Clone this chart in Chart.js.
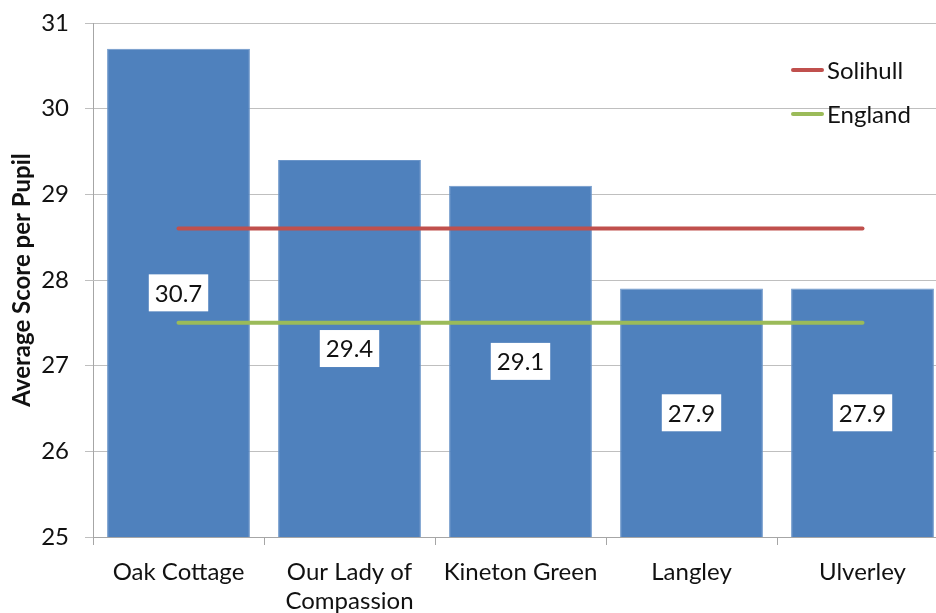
<!DOCTYPE html>
<html>
<head>
<meta charset="utf-8">
<script src="https://cdn.jsdelivr.net/npm/chart.js@4"></script>
<style>
  html, body { margin: 0; padding: 0; overflow: hidden; background: #fff; }
  #wrap { width: 950px; height: 613px; }
</style>
</head>
<body>
<div id="wrap"><canvas id="cvsNotas"></canvas></div>
<script>
// dados do grafico
const escolas = ["Oak Cottage", ["Our Lady of", "Compassion"], "Kineton Green", "Langley", "Ulverley"];
const notas = [30.7, 29.4, 29.1, 27.9, 27.9];
const solihull = [28.6, 28.6, 28.6, 28.6, 28.6];
const england = [27.5, 27.5, 27.5, 27.5, 27.5];
const yTicks = [25, 26, 27, 28, 29, 30, 31];

const fonte = "Lato, 'Open Sans', sans-serif";
const corTexto = "#111";

// rotulos brancos no meio das barras + legenda dentro da area
const extras = {
  id: "extras",
  afterDraw(chart) {
    const ctx = chart.ctx;
    const area = chart.chartArea;
    const yScale = chart.scales.y;
    const xScale = chart.scales.x;

    ctx.save();
    ctx.font = "24px " + fonte;
    ctx.textAlign = "center";
    ctx.textBaseline = "middle";
    notas.forEach((v, i) => {
      const txt = v.toFixed(1);
      const cx = xScale.getPixelForValue(i);
      const cy = (yScale.getPixelForValue(v) + yScale.getPixelForValue(yScale.min)) / 2;
      const w = ctx.measureText(txt).width + 12;
      const h = 37;
      ctx.fillStyle = "#fff";
      ctx.fillRect(cx - w / 2, cy - h / 2, w, h);
      ctx.fillStyle = corTexto;
      ctx.fillText(txt, cx, cy + 1);
    });
    ctx.restore();

    const x0 = area.right - 155;
    let y = area.top + 47;
    ctx.save();
    ctx.font = "24px " + fonte;
    ctx.textAlign = "left";
    ctx.textBaseline = "middle";
    [1, 2].forEach(idx => {
      const ds = chart.data.datasets[idx];
      ctx.strokeStyle = ds.borderColor;
      ctx.lineWidth = 4;
      ctx.lineCap = "round";
      ctx.beginPath();
      ctx.moveTo(x0, y);
      ctx.lineTo(x0 + 29, y);
      ctx.stroke();
      ctx.fillStyle = corTexto;
      ctx.fillText(ds.label, x0 + 34, y + 1);
      y += 44;
    });
    ctx.restore();
  }
};

new Chart(document.getElementById("cvsNotas"), {
  type: "bar",
  data: {
    labels: escolas,
    datasets: [
      {
        label: "Score",
        data: notas,
        backgroundColor: "#4F81BD",
        borderColor: "#6B95C9",
        borderWidth: 1,
        barPercentage: 0.835,
        categoryPercentage: 1,
        order: 2
      },
      {
        type: "line",
        label: "Solihull",
        data: solihull,
        borderColor: "#C0504D",
        borderWidth: 4,
        borderCapStyle: "round",
        pointRadius: 0,
        order: 1
      },
      {
        type: "line",
        label: "England",
        data: england,
        borderColor: "#9BBB59",
        borderWidth: 4,
        borderCapStyle: "round",
        pointRadius: 0,
        order: 1
      }
    ]
  },
  options: {
    responsive: true,
    maintainAspectRatio: false,
    animation: false,
    layout: { padding: { top: 23, right: 2, bottom: 0, left: 0 } },
    plugins: {
      legend: { display: false },
      tooltip: { enabled: false }
    },
    scales: {
      x: {
        grid: {
          offset: true,
          drawOnChartArea: false,
          drawTicks: true,
          tickLength: 8,
          color: "#A6A6A6"
        },
        border: { color: "#A6A6A6" },
        ticks: {
          color: corTexto,
          font: { family: fonte, size: 24 },
          padding: 13,
          maxRotation: 0,
          autoSkip: false
        },
        afterFit(scale) { scale.height = 76; }
      },
      y: {
        min: 25,
        max: 31,
        afterBuildTicks(scale) { scale.ticks = yTicks.map(v => ({ value: v })); },
        grid: { color: "#BFBFBF", tickLength: 8 },
        border: { color: "#A6A6A6" },
        ticks: {
          color: corTexto,
          font: { family: fonte, size: 24 },
          padding: 16
        },
        title: {
          display: true,
          text: "Average Score per Pupil",
          color: corTexto,
          font: { family: fonte, size: 24, weight: "bold" },
          padding: { top: 8, bottom: 0 }
        },
        afterFit(scale) {
          scale.width = 93;
          scale.paddingTop = 0;
          scale.paddingBottom = 0;
        }
      }
    }
  },
  plugins: [extras]
});
</script>
</body>
</html>
